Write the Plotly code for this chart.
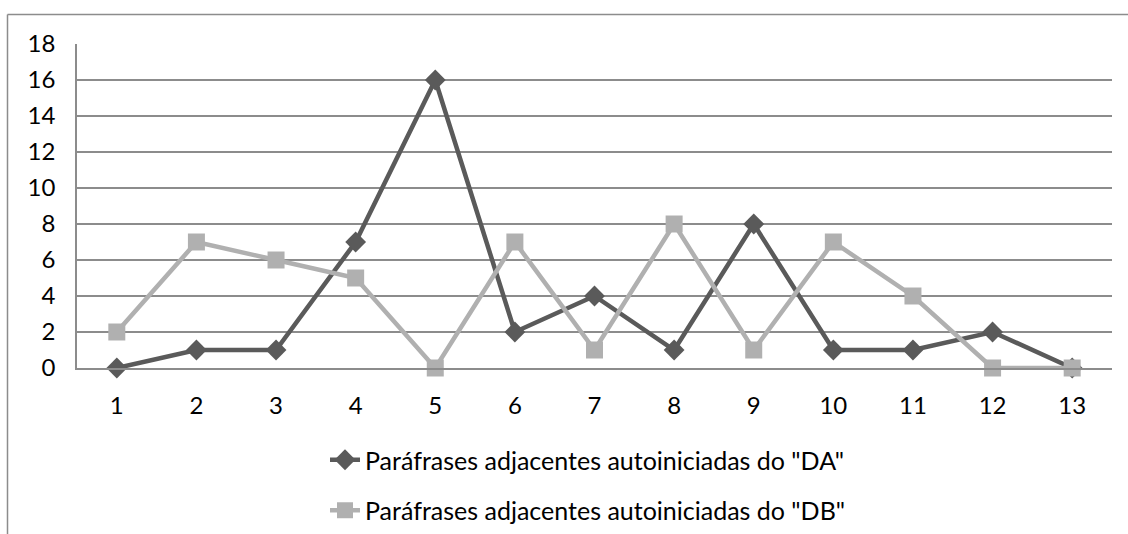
import plotly.graph_objects as go

categories = [str(i) for i in range(1, 14)]
da_values = [0, 1, 1, 7, 16, 2, 4, 1, 8, 1, 1, 2, 0]
db_values = [2, 7, 6, 5, 0, 7, 1, 8, 1, 7, 4, 0, 0]
da_name = 'Paráfrases adjacentes autoiniciadas do "DA"'
db_name = 'Paráfrases adjacentes autoiniciadas do "DB"'
y_ticks = list(range(0, 19, 2))

W, H = 1128, 534
L, R, T, B = 77, 16, 44, 166
pw, ph = W - L - R, H - T - B

fig = go.Figure()
fig.add_trace(go.Scatter(
    x=categories, y=da_values, name=da_name, mode="lines+markers",
    line=dict(color="#5a5a5a", width=4.5),
    marker=dict(symbol="diamond", size=16, color="#5a5a5a"),
    legendgroup="da", cliponaxis=False,
))
fig.add_trace(go.Scatter(
    x=categories, y=db_values, name=db_name, mode="lines+markers",
    line=dict(color="#b0b0b0", width=4.5),
    marker=dict(symbol="square", size=17, color="#b0b0b0"),
    legendgroup="db", cliponaxis=False,
))

font = dict(family="Lato, 'Open Sans', sans-serif", size=24, color="#000000")
legend_font = dict(font, size=25)

# outer chart frame: top and left edges only
def px_x(p):
    return (p - L) / pw

def px_y(p):
    return (H - B - p) / ph

fig.add_shape(type="line", xref="paper", yref="paper",
              x0=px_x(7.5), x1=px_x(1128), y0=px_y(14.5), y1=px_y(14.5),
              line=dict(color="#8c8c8c", width=1.5))
fig.add_shape(type="line", xref="paper", yref="paper",
              x0=px_x(7.5), x1=px_x(7.5), y0=px_y(14.5), y1=px_y(534),
              line=dict(color="#8c8c8c", width=1.5))

fig.update_layout(
    width=W, height=H,
    margin=dict(l=L, r=R, t=T, b=B, autoexpand=False),
    paper_bgcolor="white", plot_bgcolor="white",
    font=font,
    showlegend=True,
    legend=dict(
        orientation="v", x=px_x(325), xanchor="left",
        yref="container", y=(H - 437) / H, yanchor="top",
        font=legend_font, tracegroupgap=15, itemwidth=30,
        bgcolor="rgba(0,0,0,0)",
    ),
    xaxis=dict(
        type="category", range=[-0.5, 12.5], automargin=False,
        showgrid=False, showline=True, linecolor="#8c8c8c", linewidth=1.5,
        ticks="", ticklabelstandoff=15, tickfont=font, fixedrange=True,
    ),
    yaxis=dict(
        range=[0, 18], tickvals=y_ticks, automargin=False,
        showgrid=True, gridcolor="#8c8c8c", gridwidth=1.5,
        showline=True, linecolor="#8c8c8c", linewidth=1.5,
        zeroline=False, ticks="", ticklabelstandoff=15, tickfont=font,
    ),
)

fig.write_html("out.html")
